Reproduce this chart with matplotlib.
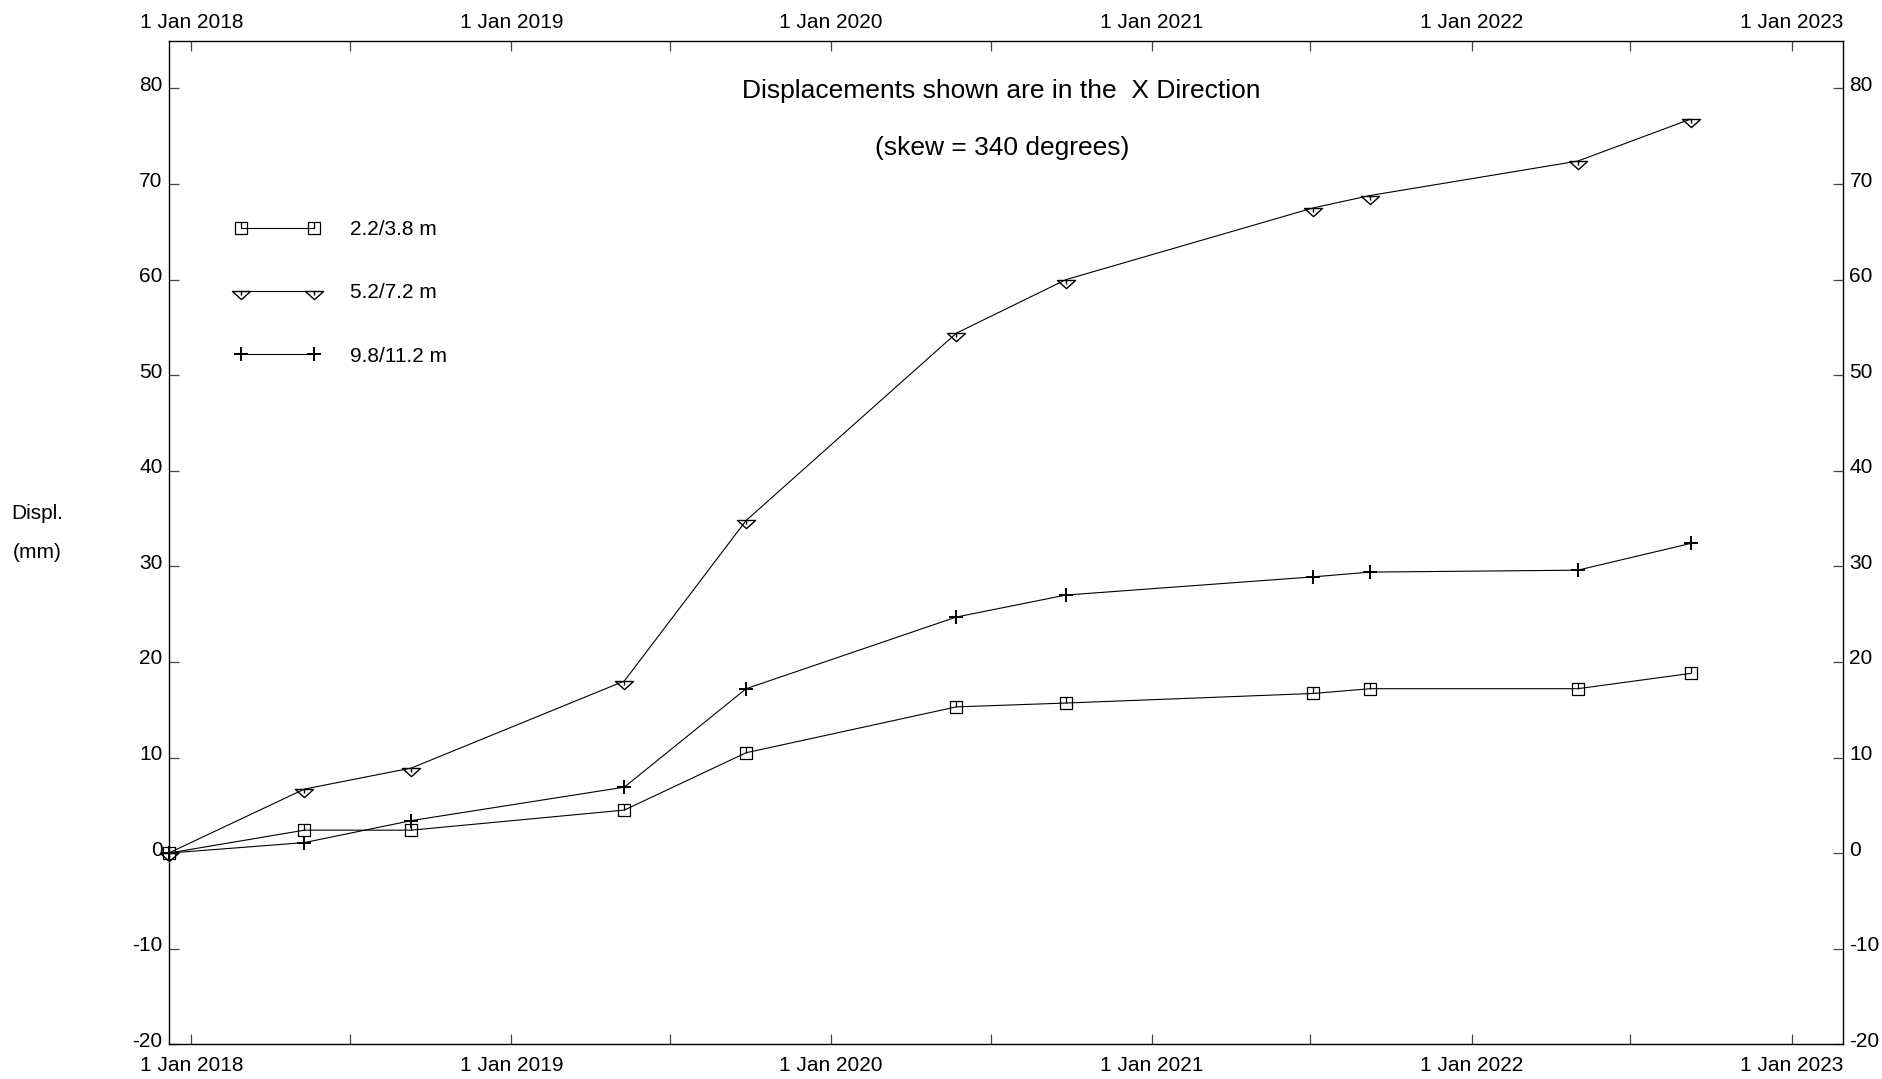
import matplotlib
matplotlib.use("Agg")
import pandas as pd
import matplotlib.pyplot as plt
import matplotlib.dates as mdates
from matplotlib.path import Path
from matplotlib.lines import Line2D
from matplotlib.legend_handler import HandlerLine2D
from matplotlib.transforms import ScaledTranslation

plt.rcParams['font.family'] = ['Liberation Sans', 'DejaVu Sans']
plt.rcParams['axes.unicode_minus'] = False

# Survey dates
dates = pd.to_datetime(['2017-12-06', '2018-05-10', '2018-09-09', '2019-05-10',
                        '2019-09-26', '2020-05-23', '2020-09-25', '2021-07-04',
                        '2021-09-07', '2022-05-02', '2022-09-08'])

# Displacement (mm) for each depth interval
disp_22 = [0.0, 2.4, 2.4, 4.5, 10.5, 15.3, 15.7, 16.7, 17.2, 17.2, 18.8]
disp_52 = [0.0, 6.7, 8.9, 18.0, 34.8, 54.4, 60.0, 67.5, 68.8, 72.4, 76.8]
disp_98 = [0.0, 1.1, 3.4, 6.9, 17.2, 24.7, 27.0, 28.9, 29.4, 29.6, 32.4]
labels = ['2.2/3.8 m', '5.2/7.2 m', '9.8/11.2 m']

y_ticks = list(range(-20, 90, 10))
x_start, x_end = pd.Timestamp('2017-12-06'), pd.Timestamp('2023-03-01')

# markers: open square with a small tick, flat down-triangle hanging from the point
M, L, C = Path.MOVETO, Path.LINETO, Path.CLOSEPOLY
sq = Path([(-1, -1), (1, -1), (1, 1), (-1, 1), (-1, -1), (0, 0), (0, 1)],
          [M, L, L, L, C, M, L])
tri = Path([(-1, 0), (1, 0), (0, -0.9), (-1, 0), (0, 0), (0, -0.45)],
           [M, L, L, C, M, L])

fig = plt.figure(figsize=(18.82, 10.79), dpi=100)
ax = fig.add_axes([0.0896, 0.0322, 0.8898, 0.9301])

lw = 0.8
ax.plot(dates, disp_22, color='black', lw=lw, marker=sq, ms=8.5, mfc='none', mec='black',
        mew=0.9, label=labels[0], clip_on=False)
ax.plot(dates, disp_52, color='black', lw=lw, marker=tri, ms=13, mfc='none', mec='black',
        mew=1.0, label=labels[1], clip_on=False)
ax.plot(dates, disp_98, color='black', lw=lw, marker='+', ms=10, mec='black',
        mew=1.4, label=labels[2], clip_on=False)

ax.set_xlim(x_start, x_end)
ax.set_ylim(-20, 85)

# axes ticks on all four sides, inward
ax.xaxis.set_major_locator(mdates.YearLocator())
ax.xaxis.set_minor_locator(mdates.MonthLocator(bymonth=7))
ax.xaxis.set_major_formatter(mdates.DateFormatter('1 Jan %Y'))
ax.set_yticks(y_ticks)
ax.set_yticklabels([str(v) for v in y_ticks])
ax.tick_params(axis='x', which='both', direction='in', length=7, width=0.9, color='#444444',
               top=True, labeltop=True, labelsize=15)
ax.tick_params(axis='x', which='major', pad=6)
ax.tick_params(axis='y', direction='in', length=7.5, width=0.9, color='#444444',
               right=True, labelright=True, labelsize=15, pad=4.5)

# bottom labels sit a bit further from the axis than the top ones
down = ScaledTranslation(0, -0.035, fig.dpi_scale_trans)
for t in ax.xaxis.get_major_ticks():
    t.label1.set_transform(t.label1.get_transform() + down)

# y labels sit a little above their tick
up = ScaledTranslation(0, 0.05, fig.dpi_scale_trans)
for t in ax.yaxis.get_major_ticks():
    t.label1.set_transform(t.label1.get_transform() + up)
    t.label2.set_transform(t.label2.get_transform() + up)

for s in ax.spines.values():
    s.set_linewidth(1.0)
    s.set_color('black')

ax.text(0.4975, 0.9495, 'Displacements shown are in the  X Direction', transform=ax.transAxes,
        ha='center', va='center', fontsize=19)
ax.text(0.4975, 0.8935, '(skew = 340 degrees)', transform=ax.transAxes,
        ha='center', va='center', fontsize=19)

fig.text(0.0062, 0.524, 'Displ.', fontsize=15, ha='left', va='center')
fig.text(0.0069, 0.488, '(mm)', fontsize=15, ha='left', va='center')

ax.legend(loc='upper left', bbox_to_anchor=(0.0432, 0.821), frameon=False, fontsize=15,
          borderpad=0, borderaxespad=0, handlelength=3.5, handletextpad=1.75,
          labelspacing=2.12, handler_map={Line2D: HandlerLine2D(numpoints=2, marker_pad=0)})

fig.savefig('out.png', dpi=100)
